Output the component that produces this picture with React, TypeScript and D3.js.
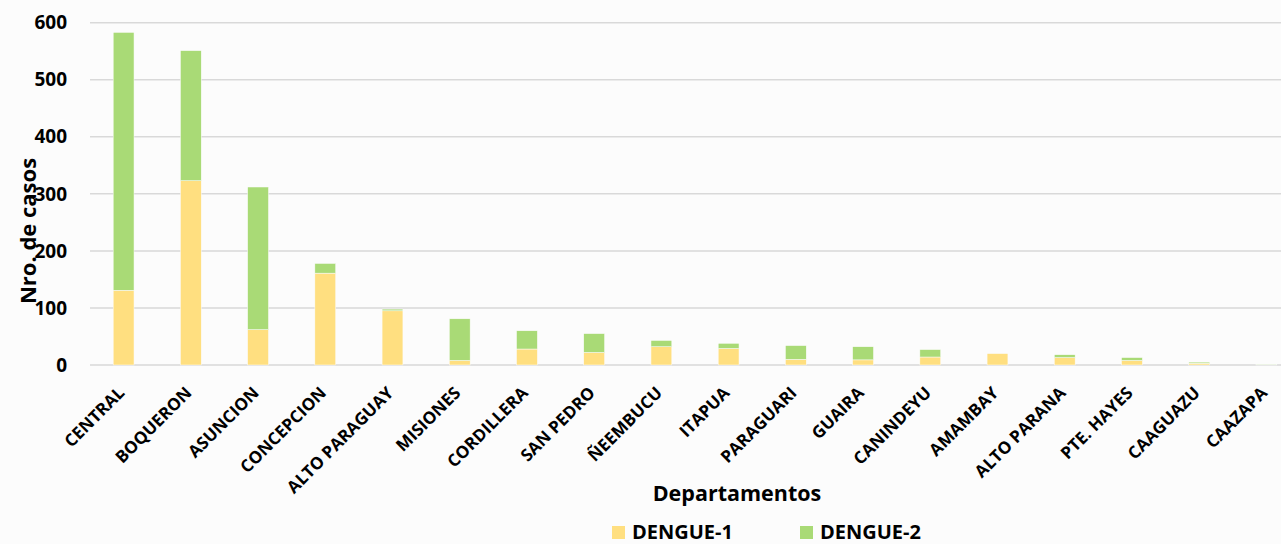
import { useEffect, useRef } from "react";
import * as d3 from "d3";

const departamentos = [
  "CENTRAL", "BOQUERON", "ASUNCION", "CONCEPCION", "ALTO PARAGUAY", "MISIONES",
  "CORDILLERA", "SAN PEDRO", "ÑEEMBUCU", "ITAPUA", "PARAGUARI", "GUAIRA",
  "CANINDEYU", "AMAMBAY", "ALTO PARANA", "PTE. HAYES", "CAAGUAZU", "CAAZAPA",
];
const dengue1 = [131, 323, 62, 161, 95, 8, 28, 22, 32, 29, 10, 9, 14, 20, 13, 8, 3, 0];
const dengue2 = [452, 228, 250, 17, 3, 73, 32, 33, 11, 9, 24, 23, 13, 0, 5, 5, 2, 1];
const yTicks = [0, 100, 200, 300, 400, 500, 600];
const series = ["DENGUE-1", "DENGUE-2"];
const colors = ["#FFDF80", "#A9DA76"];

const App = () => {
  const svgRef = useRef(null);

  useEffect(() => {
    const W = 1281;
    const H = 544;
    const left = 90;
    const right = 1300;
    const top = 22.7;
    const bottom = 365;
    const font = "'Open Sans', 'DejaVu Sans', sans-serif";

    const svg = d3.select(svgRef.current);
    svg.selectAll("*").remove();
    svg.attr("width", W).attr("height", H);

    svg.append("rect").attr("width", W).attr("height", H).attr("fill", "#fcfcfc");

    const x = d3
      .scaleBand()
      .domain(departamentos)
      .range([left, right])
      .paddingInner(0.69)
      .paddingOuter(0.345);
    const y = d3.scaleLinear().domain([0, 600]).range([bottom, top]);

    // lineas de grilla
    svg
      .append("g")
      .selectAll("line")
      .data(yTicks)
      .enter()
      .append("line")
      .attr("x1", left)
      .attr("x2", W)
      .attr("y1", (d) => y(d))
      .attr("y2", (d) => y(d))
      .attr("stroke", "#d9d9d9")
      .attr("stroke-width", 1.5);

    // etiquetas eje Y
    svg
      .append("g")
      .selectAll("text")
      .data(yTicks)
      .enter()
      .append("text")
      .attr("x", 67)
      .attr("y", (d) => y(d))
      .attr("dy", "0.35em")
      .attr("text-anchor", "end")
      .attr("font-family", font)
      .attr("font-weight", "bold")
      .attr("font-size", 19)
      .attr("fill", "#000")
      .text((d) => d);

    // barras apiladas
    const rows = departamentos.map((d, i) => ({ dep: d, d1: dengue1[i], d2: dengue2[i] }));
    const stacked = d3.stack().keys(["d1", "d2"])(rows);

    svg
      .append("g")
      .selectAll("g")
      .data(stacked)
      .enter()
      .append("g")
      .attr("fill", (_, i) => colors[i])
      .selectAll("rect")
      .data((s) => s)
      .enter()
      .append("rect")
      .attr("x", (d) => x(d.data.dep))
      .attr("y", (d) => y(d[1]))
      .attr("width", x.bandwidth())
      .attr("height", (d) => y(d[0]) - y(d[1]))
      .attr("stroke", "#fcfcfc")
      .attr("stroke-width", 0.5);

    // etiquetas eje X
    svg
      .append("g")
      .selectAll("text")
      .data(departamentos)
      .enter()
      .append("text")
      .attr(
        "transform",
        (d) => `translate(${x(d) + x.bandwidth() / 2 + 2},${394}) rotate(-45)`
      )
      .attr("text-anchor", "end")
      .attr("font-family", font)
      .attr("font-weight", "bold")
      .attr("font-size", 17)
      .attr("fill", "#000")
      .text((d) => d);

    // titulo eje Y
    svg
      .append("text")
      .attr("transform", `translate(36,231) rotate(-90)`)
      .attr("text-anchor", "middle")
      .attr("font-family", font)
      .attr("font-weight", "bold")
      .attr("font-size", 22)
      .attr("fill", "#000")
      .text("Nro. de casos");

    // titulo eje X
    svg
      .append("text")
      .attr("x", 737)
      .attr("y", 501)
      .attr("text-anchor", "middle")
      .attr("font-family", font)
      .attr("font-weight", "bold")
      .attr("font-size", 21.5)
      .attr("fill", "#000")
      .text("Departamentos");

    // leyenda
    const legendX = [612, 800];
    const legend = svg
      .append("g")
      .selectAll("g")
      .data(series)
      .enter()
      .append("g")
      .attr("transform", (_, i) => `translate(${legendX[i]},0)`);
    legend
      .append("rect")
      .attr("x", 0)
      .attr("y", 526)
      .attr("width", 13)
      .attr("height", 13)
      .attr("fill", (_, i) => colors[i]);
    legend
      .append("text")
      .attr("x", 20)
      .attr("y", 539)
      .attr("font-family", font)
      .attr("font-weight", "bold")
      .attr("font-size", 20)
      .attr("fill", "#000")
      .text((d) => d);
  }, []);

  return (
    <div style={{ position: "absolute", left: 0, top: 0 }}>
      <svg ref={svgRef} style={{ display: "block" }}></svg>
    </div>
  );
};

export default App;
